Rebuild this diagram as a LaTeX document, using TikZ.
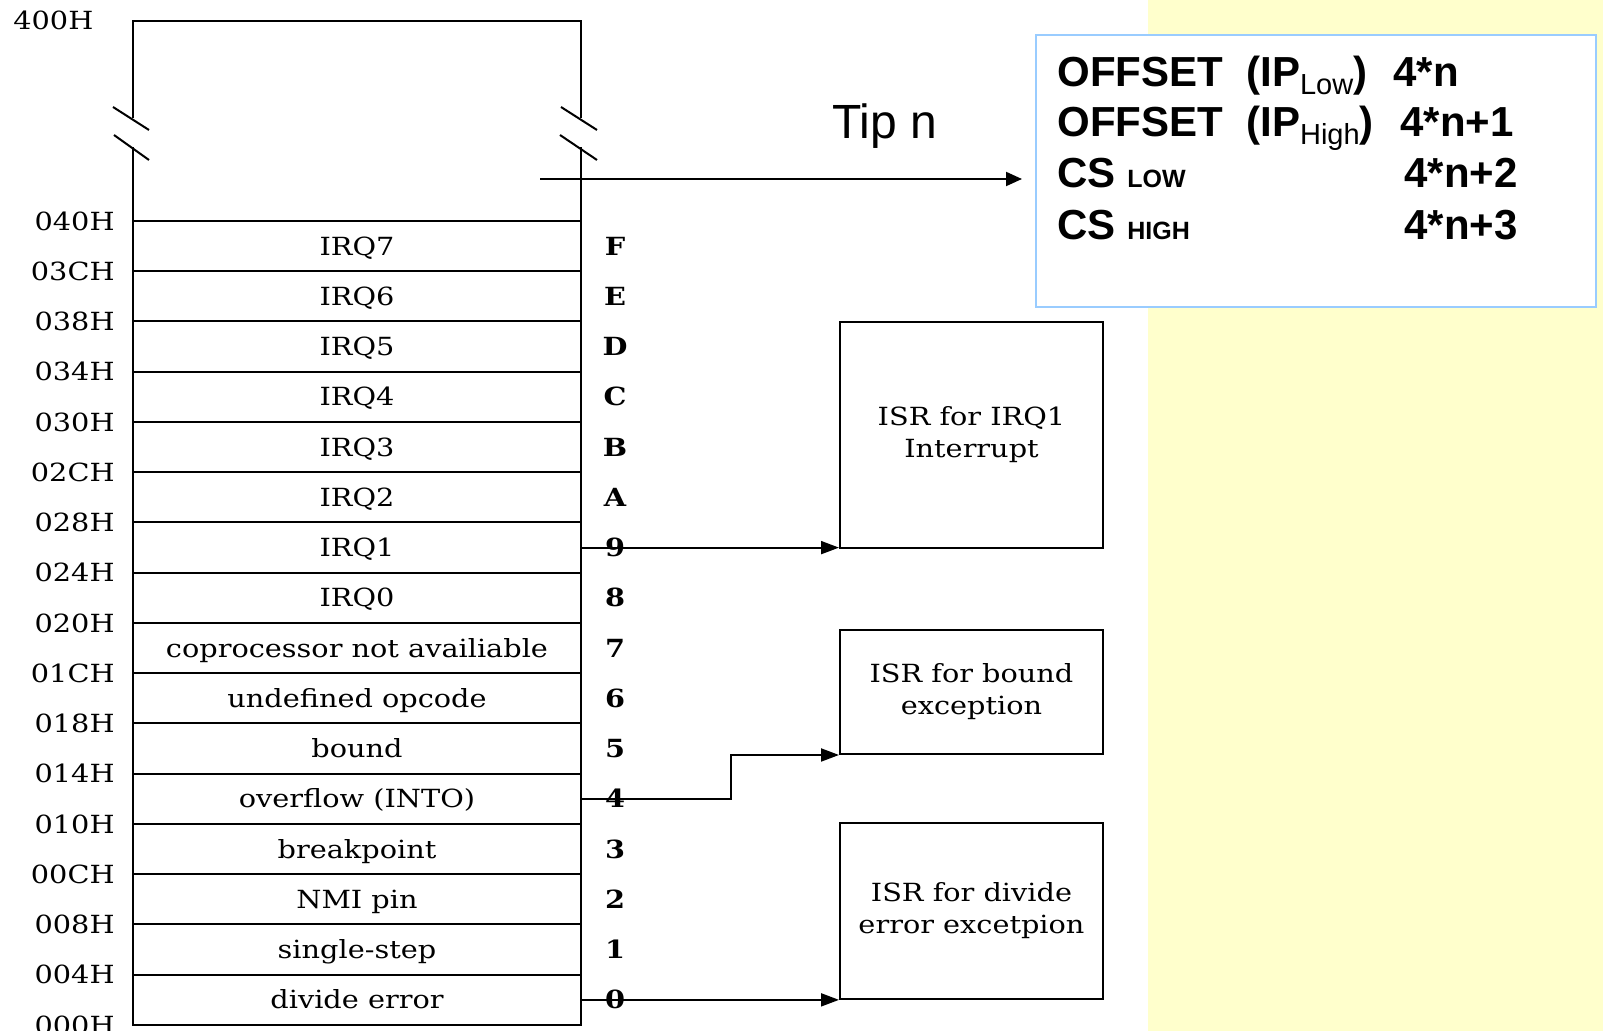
\documentclass[tikz,border=0pt]{standalone}
\usepackage{fontspec}
\setmainfont{DejaVu Serif}[FakeStretch=1.15]
\newfontfamily\arialf{Liberation Sans}
\usetikzlibrary{arrows.meta}
\definecolor{bgyellow}{RGB}{255,255,204}
\definecolor{boxblue}{RGB}{153,204,255}
\tikzset{
  ln/.style={line width=1pt, line cap=rect},
  rowbox/.style={draw, line width=1pt, minimum width=224pt, minimum height=25.125pt, inner sep=0pt,
     font=\fontsize{12.5pt}{15pt}\selectfont, text height=9.1pt, text depth=0pt},
  numlab/.style={inner sep=0pt, font=\fontsize{12.5pt}{14pt}\selectfont\bfseries, text height=9.1pt, text depth=0pt},
  addr/.style={inner sep=0pt, font=\fontsize{12.5pt}{15pt}\selectfont, text height=9.1pt, text depth=0pt},
  isr/.style={draw, line width=1pt, minimum width=131.5pt, inner sep=0pt, align=center,
     font=\fontsize{12.5pt}{16pt}\selectfont},
  arr/.style={line width=1pt, -{Triangle[length=9pt, width=6.5pt]}},
  infobox/.style={draw=boxblue, fill=white, line width=1pt, minimum width=280pt, minimum height=136pt, inner sep=0pt},
  big/.style={inner sep=0pt, anchor=base west, font=\arialf\bfseries\fontsize{21pt}{25pt}\selectfont},
}
\newcommand{\subtxt}[1]{\raisebox{-4pt}{\mdseries\fontsize{14.5pt}{16pt}\selectfont #1}}
\newcommand{\smallcap}[1]{{\fontsize{12.5pt}{14pt}\selectfont #1}}
\begin{document}
\begin{tikzpicture}[x=0.5pt, y=-0.5pt]
\clip (0,0) rectangle (1603,1031);
\fill[white] (0,0) rectangle (1603,1031);
\fill[bgyellow] (1148,0) rectangle (1603,1031);

% top (elided) region of the table
\draw[ln] (133,117) -- (133,21.5) -- (581,21.5) -- (581,117);
\draw[ln] (133,148) -- (133,221);
\draw[ln] (581,148) -- (581,221);
\draw[line width=1pt] (113,107) -- (149,130);
\draw[line width=1pt] (114,135) -- (149,160);
\draw[line width=1pt] (561,107) -- (597,130);
\draw[line width=1pt] (560,135) -- (597,160);

% table rows and vector numbers
\foreach \lab/\num/\i in {IRQ7/F/0, IRQ6/E/1, IRQ5/D/2, IRQ4/C/3, IRQ3/B/4, IRQ2/A/5, IRQ1/9/6, IRQ0/8/7,
  coprocessor not availiable/7/8, undefined opcode/6/9, bound/5/10, overflow (INTO)/4/11,
  breakpoint/3/12, NMI pin/2/13, single-step/1/14, divide error/0/15}{
  \node[rowbox] (row\num) at (357,{221+50.25*(\i+0.5)}) {\lab};
  \node[numlab] (n\num) at (615,{221+50.25*(\i+0.5)}) {\num};
}

% addresses
\node[addr, anchor=west] (a400) at (13,20.5) {400H};
\foreach \a/\k in {040H/0, 03CH/1, 038H/2, 034H/3, 030H/4, 02CH/5, 028H/6, 024H/7, 020H/8,
  01CH/9, 018H/10, 014H/11, 010H/12, 00CH/13, 008H/14, 004H/15, 000H/16}{
  \node[addr, anchor=east] (a\k) at (115,{221+50.25*\k}) {\a};
}

% ISR boxes
\node[isr, minimum height=113pt] (isr1) at (971.5,435) {ISR for IRQ1\\Interrupt};
\node[isr, minimum height=62pt] (isr2) at (971.5,692) {ISR for bound\\exception};
\node[isr, minimum height=88pt] (isr3) at (971.5,911) {ISR for divide\\error excetpion};

\draw[arr] (row9.east) -- (row9.east -| isr1.west);
\draw[arr] (row4.east) -- ++(149,0) |- (isr2.south west);
\draw[arr] (row0.east) -- (row0.east -| isr3.west);

% info box
\node[infobox] (info) at (1316,171) {};
\coordinate (tipstart) at (540,179);
\draw[line width=1pt, -{Triangle[length=8pt, width=7pt]}, shorten >=6.5pt] (tipstart) -- (tipstart -| info.west);
\node[inner sep=0pt, anchor=base west, font=\arialf\fontsize{24pt}{28pt}\selectfont] (tip) at (832,139) {Tip n};

\node[big] (o1) at (1057,87) {OFFSET};
\node[big] (p1) at (1246,87) {(IP\subtxt{Low})};
\node[big] (v1) at (1393,87) {4*n};
\node[big] (o2) at (1057,137) {OFFSET};
\node[big] (p2) at (1246,137) {(IP\subtxt{High})};
\node[big] (v2) at (1400,137) {4*n+1};
\node[big] (c3) at (1057,188) {CS \smallcap{LOW}};
\node[big] (v3) at (1404,188) {4*n+2};
\node[big] (c4) at (1057,240) {CS \smallcap{HIGH}};
\node[big] (v4) at (1404,240) {4*n+3};
\end{tikzpicture}
\end{document}
